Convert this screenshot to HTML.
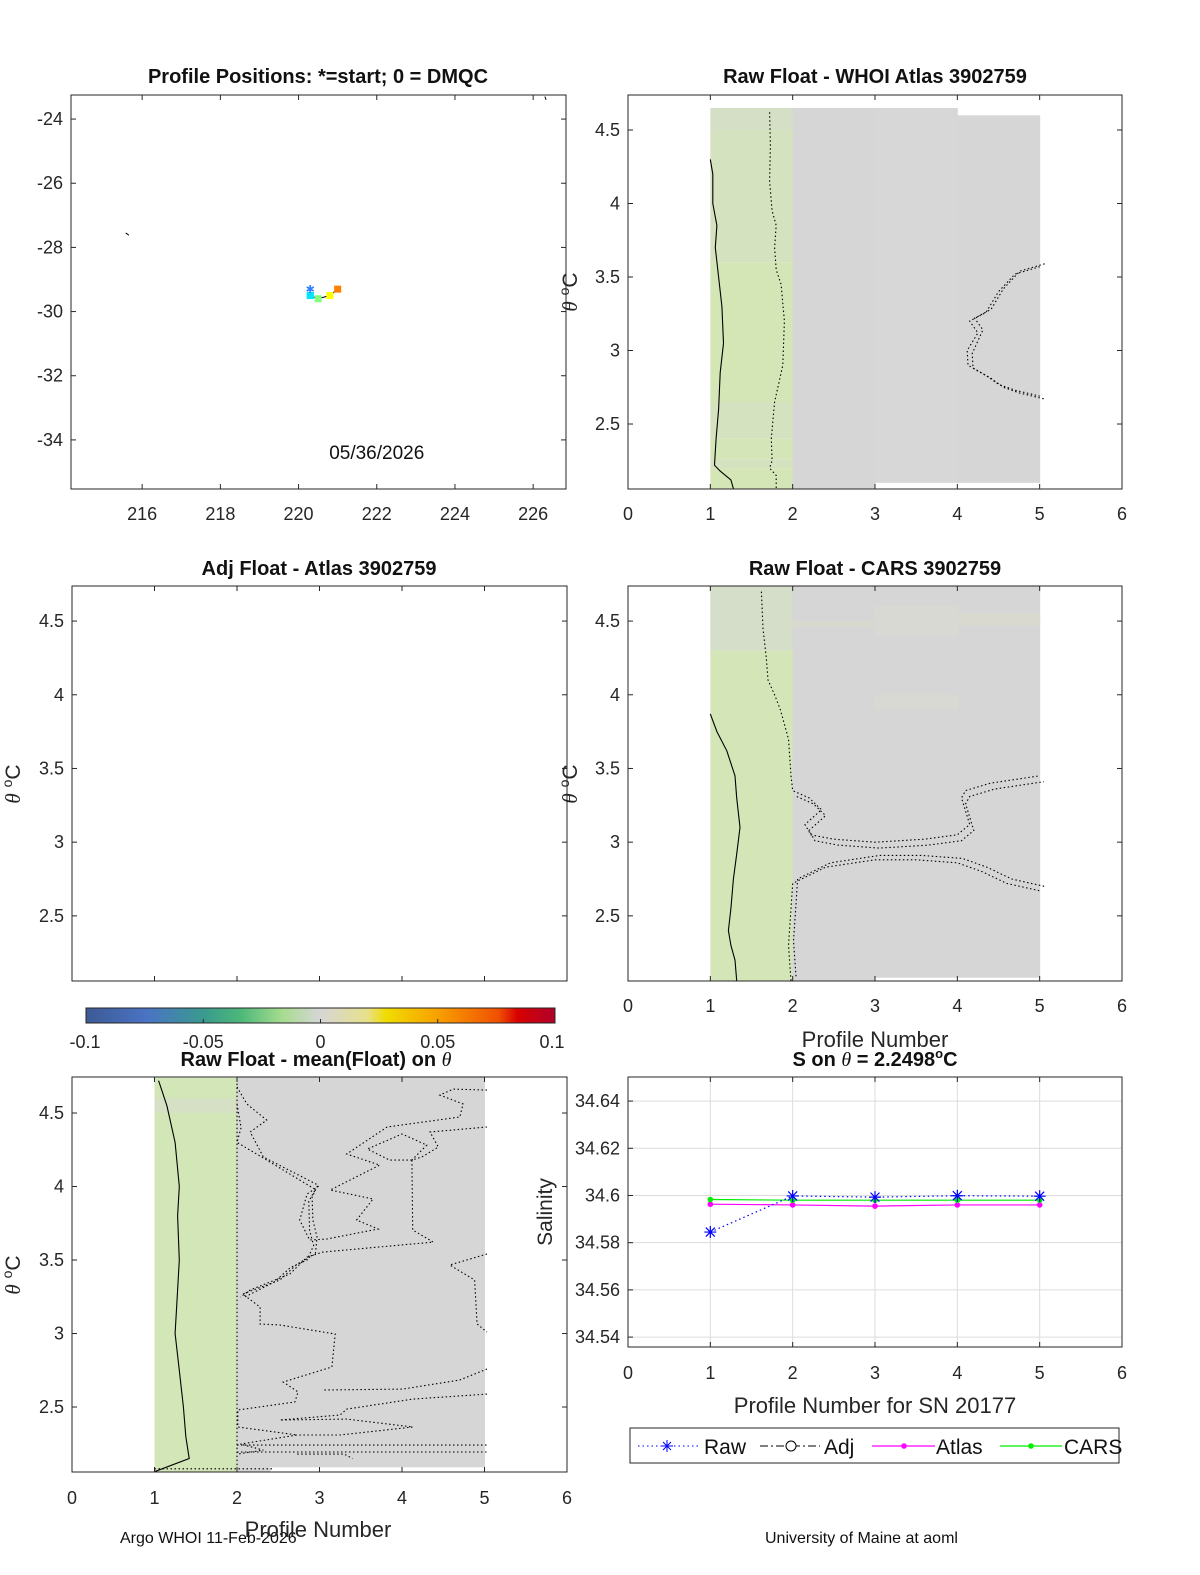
<!DOCTYPE html>
<html><head><meta charset="utf-8">
<style>
html,body{margin:0;padding:0;background:#fff;}
svg{display:block;font-family:"Liberation Sans","DejaVu Sans",sans-serif;}
.t{font-size:20px;font-weight:bold;fill:#111;text-anchor:middle;}
.tk{font-size:18px;fill:#262626;}
</style></head>
<body>
<svg id="fig" xmlns="http://www.w3.org/2000/svg" width="1200" height="1575" viewBox="0 0 1200 1575">
<defs>
<linearGradient id="cmap" x1="0" x2="1" y1="0" y2="0">
<stop offset="0" stop-color="#3d5a96"/><stop offset="0.13" stop-color="#4a73c4"/><stop offset="0.25" stop-color="#3a9a8f"/><stop offset="0.33" stop-color="#4cb878"/><stop offset="0.42" stop-color="#a8dc90"/><stop offset="0.5" stop-color="#d6d6d6"/><stop offset="0.6" stop-color="#e8e08a"/><stop offset="0.64" stop-color="#f0dc00"/><stop offset="0.75" stop-color="#f8a000"/><stop offset="0.88" stop-color="#f05000"/><stop offset="0.92" stop-color="#d80000"/><stop offset="1" stop-color="#b0002a"/>
</linearGradient>
</defs>
<g id="root"></g>
</svg>
<script>
// ---------- DATA ----------
const profiles=[1,2,3,4,5];
const salRaw=[34.5845,34.5998,34.5993,34.5999,34.5997];
const salAtlas=[34.5963,34.5960,34.5955,34.5960,34.5960];
const salCars=[34.5983,34.5980,34.5980,34.5980,34.5980];
const salTicks=[34.54,34.56,34.58,34.60,34.62,34.64];
const salTickLabels=["34.54","34.56","34.58","34.6","34.62","34.64"];
const thetaTicks=[2.5,3,3.5,4,4.5];
const thetaTickLabels=["2.5","3","3.5","4","4.5"];
const profTicks=[0,1,2,3,4,5,6];
const lonTicks=[216,218,220,222,224,226];
const latTicks=[-34,-32,-30,-28,-26,-24];
const posLon=[220.3,220.3,220.5,220.8,221.0];
const posLat=[-29.5,-29.5,-29.6,-29.5,-29.3];
const posColors=["#00e5ff","#00e5ff","#80ff80","#ffff00","#ff8000"];
const cbTicks=[-0.1,-0.05,0,0.05,0.1];
const cbTickLabels=["-0.1","-0.05","0","0.05","0.1"];
// heatmap cells: [p0,p1,thetaTop,thetaBottom,color]
const cellsWHOI=[[1,2,4.65,4.5,"#d5dfc6"],[1,2,4.5,3.6,"#d4e2c0"],[1,2,3.6,2.65,"#d4e6b5"],[1,2,2.65,2.4,"#d4e2c0"],[1,2,2.4,2.26,"#d4e6b8"],[1,2,2.26,2.2,"#d4e2c0"],[1,2,2.2,2.06,"#d4e6b5"],
 [2,3,4.65,2.058,"#d6d6d6"],[3,4,4.65,2.1,"#d7d7d7"],[4,5,4.6,2.1,"#d6d6d6"]];
const cellsCARS=[[1,2,4.74,4.3,"#d5dec8"],[1,2,4.3,2.06,"#d4e6b8"],[2,5,4.74,2.058,"#d6d6d6"],[2,3,4.5,4.46,"#d8d8cf"],[3,4,4.6,4.4,"#d9d9d3"],[4,5,4.55,4.47,"#d9d9d0"],[3,4,4.0,3.9,"#d9d9d3"],[3,5,2.08,2.058,"#ffffff"]];
const cellsMean=[[1,2,4.74,2.06,"#d3e6b7"],[1,2,4.6,4.5,"#d5e0c4"],[2,5,4.75,2.09,"#d6d6d6"],[2,2.4,2.09,2.06,"#d6d6d6"]];
// contours [profile, theta]
const cWhoiSolid=[[1.0,4.3],[1.03,4.2],[1.03,4.0],[1.08,3.85],[1.06,3.7],[1.1,3.5],[1.14,3.3],[1.16,3.05],[1.12,2.85],[1.1,2.6],[1.07,2.4],[1.05,2.22],[1.12,2.18],[1.25,2.12],[1.28,2.06]];
const cWhoiDot=[[1.72,4.62],[1.73,4.4],[1.72,4.15],[1.75,3.95],[1.8,3.85],[1.78,3.7],[1.8,3.55],[1.86,3.45],[1.9,3.2],[1.88,2.9],[1.78,2.65],[1.74,2.4],[1.75,2.25],[1.72,2.2],[1.8,2.15],[1.8,2.06]];
const cWhoiLoop=[[5.0,3.57],[4.7,3.52],[4.5,3.4],[4.35,3.26],[4.15,3.2],[4.25,3.12],[4.12,3.0],[4.13,2.9],[4.35,2.83],[4.5,2.77],[4.7,2.73],[5.0,2.69]];
const cCarsSolid=[[1.0,3.87],[1.08,3.75],[1.2,3.62],[1.3,3.45],[1.32,3.3],[1.36,3.1],[1.32,2.92],[1.28,2.75],[1.25,2.55],[1.22,2.4],[1.25,2.3],[1.3,2.2],[1.32,2.06]];
const cCarsDot1=[[1.62,4.7],[1.64,4.45],[1.68,4.25],[1.7,4.1],[1.78,4.0],[1.85,3.9],[1.95,3.7],[1.98,3.45],[2.0,3.35],[2.2,3.3],[2.35,3.22],[2.15,3.12],[2.22,3.05],[2.5,3.02],[3.0,3.0],[3.6,3.02],[4.0,3.05],[4.15,3.12],[4.05,3.3],[4.1,3.35],[4.4,3.4],[5.0,3.45]];
const cCarsDot2=[[1.98,2.06],[1.95,2.3],[1.98,2.55],[2.0,2.72],[2.4,2.83],[3.0,2.88],[3.5,2.88],[4.0,2.86],[4.3,2.8],[4.6,2.72],[5.0,2.67]];
const cMeanSolid=[[1.05,4.72],[1.15,4.55],[1.25,4.3],[1.3,4.0],[1.28,3.8],[1.3,3.5],[1.27,3.2],[1.25,3.0],[1.3,2.75],[1.35,2.5],[1.38,2.3],[1.42,2.15],[1.0,2.06]];
const cMean1=[[2.0,4.677],[2.12,4.561],[2.36,4.452],[2.16,4.371],[2.32,4.201],[2.98,4.01],[2.91,3.929],[2.92,3.772],[2.97,3.656],[2.95,3.541],[2.73,3.473],[2.52,3.364],[2.07,3.269],[2.28,3.18],[2.28,3.065],[2.52,3.058],[3.19,2.997],[3.15,2.772],[2.56,2.67],[2.74,2.602],[2.7,2.534],[2.01,2.48],[2.01,2.364],[2.73,2.31],[2.04,2.248],[2.32,2.207],[2.0,2.18]];
const cMean1b=[[2.0,4.56],[2.05,4.4],[2.0,4.3],[2.3,4.2],[2.95,3.98],[2.87,3.9],[2.88,3.7],[2.93,3.6],[2.85,3.5],[2.65,3.45],[2.45,3.35],[2.1,3.25]];
const cMean2=[[5.03,4.656],[4.62,4.663],[4.46,4.622],[4.74,4.561],[4.7,4.473],[3.82,4.405],[3.33,4.221],[3.73,4.146],[3.13,3.976],[3.65,3.915],[3.45,3.772],[3.71,3.711],[3.09,3.643],[2.88,3.636],[2.76,3.772],[2.85,3.949],[3.01,4.01]];
const cMean3=[[5.03,4.405],[4.34,4.371],[4.44,4.269],[4.24,4.201],[4.12,4.18],[4.13,3.704],[4.38,3.622],[3.04,3.554],[2.85,3.52],[2.64,3.405],[2.16,3.296],[2.04,3.248]];
const cMeanLoop=[[4.12,4.18],[3.85,4.18],[3.58,4.255],[4.0,4.357],[4.3,4.282],[4.12,4.18]];
const cMean4=[[5.03,3.541],[4.58,3.466],[4.88,3.364],[4.91,3.065],[5.03,3.01]];
const cMean5=[[5.03,2.759],[4.7,2.684],[4.01,2.622],[3.04,2.616]];
const cMean6=[[5.03,2.588],[4.13,2.554],[3.33,2.486],[3.25,2.446],[2.52,2.412],[3.33,2.418],[4.13,2.364],[3.25,2.31],[2.73,2.31]];
const cMean7=[[2.0,2.241],[5.03,2.241]];
const cMean8=[[2.0,2.194],[5.03,2.194]];
const cMean9=[[2.73,2.18],[3.3,2.18],[3.4,2.15]];
const cMean10=[[1.0,2.08],[2.45,2.08]];

// ---------- helpers ----------
const NS="http://www.w3.org/2000/svg";
const root=document.getElementById('root');
function el(tag,attrs,parent,txt){const e=document.createElementNS(NS,tag);for(const k in attrs)e.setAttribute(k,attrs[k]);if(txt!==undefined)e.textContent=txt;(parent||root).appendChild(e);return e;}
function axes(x0,x1,y0,y1,xmin,xmax,ymin,ymax){return{x0,x1,y0,y1,X:v=>x0+(v-xmin)/(xmax-xmin)*(x1-x0),Y:v=>y1-(v-ymin)/(ymax-ymin)*(y1-y0)};}
function frame(a,name,g){const r=el('rect',{x:a.x0,y:a.y0,width:a.x1-a.x0,height:a.y1-a.y0,fill:'none',stroke:'#262626','stroke-width':1},g);
}
function xticks(a,vals,labels,g,name,ly){const tg=el('g',{},g);
vals.forEach((v,i)=>{const x=a.X(v);el('line',{x1:x,x2:x,y1:a.y1,y2:a.y1-5,stroke:'#262626'},tg);el('line',{x1:x,x2:x,y1:a.y0,y2:a.y0+5,stroke:'#262626'},tg);
if(labels){const t=el('text',{x:x,y:ly||a.y1+32,class:'tk','text-anchor':'middle'},tg,labels[i]);}});}
function yticks(a,vals,labels,g,name){const tg=el('g',{},g);
vals.forEach((v,i)=>{const y=a.Y(v);el('line',{x1:a.x0,x2:a.x0+5,y1:y,y2:y,stroke:'#262626'},tg);el('line',{x1:a.x1,x2:a.x1-5,y1:y,y2:y,stroke:'#262626'},tg);
el('text',{x:a.x0-8,y:y+6,class:'tk','text-anchor':'end'},tg,labels[i]);});}
function cells(a,arr,g,name){const cg=el('g',{},g);
arr.forEach(c=>{const r=el('rect',{x:a.X(c[0]),y:a.Y(c[2]),width:a.X(c[1])-a.X(c[0])+0.5,height:a.Y(c[3])-a.Y(c[2]),fill:c[4]},cg);
});}
function contour(a,pts,dotted,g,name){const d=pts.map((p,i)=>(i?'L':'M')+a.X(p[0]).toFixed(1)+','+a.Y(p[1]).toFixed(1)).join(' ');
const p=el('path',{d:d,fill:'none',stroke:'#000','stroke-width':1.1,'stroke-dasharray':dotted?'1.5,2.5':'none'},g);
}
function title(x,y,txt,g,name){const t=el('text',{x:x,y:y,class:'t'},g);
return t;}
function thetaTitle(x,y,txt){ // text with italic theta
 const t=el('text',{x:x,y:y,class:'t'});
 return t;}
function ylab(x,y,g,name){const t=el('text',{x:x,y:y,transform:`rotate(-90 ${x} ${y})`,'text-anchor':'middle','font-size':'21px',fill:'#262626'},g);
 
 el('tspan',{'font-style':'italic','font-family':'"Liberation Serif",serif'},t,'θ');el('tspan',{},t,' ');el('tspan',{dy:-8,'font-size':'14px'},t,'o');el('tspan',{dy:8},t,'C');}

// ---------- Panel 1: map ----------
{const g=el('g',{});
const a=axes(71,566,95,489,214.18,226.84,-35.53,-23.25);
const t=title(318,83,'',g,'map-title');t.textContent='Profile Positions: *=start; 0 = DMQC';
xticks(a,lonTicks,lonTicks.map(String),g,'map-x-ticks',520);
yticks(a,latTicks,latTicks.map(String),g,'map-y-ticks');
el('line',{x1:a.X(215.58),y1:a.Y(-27.55),x2:a.X(215.66),y2:a.Y(-27.62),stroke:'#000'},g);
el('line',{x1:a.X(226.3),y1:a.Y(-23.3),x2:a.X(226.33),y2:a.Y(-23.4),stroke:'#000'},g);
const trk=posLon.map((v,i)=>(i?'L':'M')+a.X(v)+','+a.Y(posLat[i])).join(' ');
el('path',{d:trk,stroke:'#000',fill:'none','stroke-width':1},g);
posLon.forEach((v,i)=>{const r=el('rect',{x:a.X(v)-3.5,y:a.Y(posLat[i])-3.5,width:7,height:7,fill:posColors[i]},g);
});
const s=el('text',{x:a.X(220.3),y:a.Y(-29.3)+4,'font-size':'11px','text-anchor':'middle',fill:'#3080ff','font-weight':'bold'},g,'✱');

const dt=el('text',{x:a.X(222),y:a.Y(-34.6),'font-size':'19px','text-anchor':'middle',fill:'#111'},g,'05/36/2026');

frame(a,'map',g);}

// ---------- Panel 2: Raw - WHOI ----------
{const g=el('g',{});
const a=axes(628,1122,95,489,0,6,2.058,4.738);
cells(a,cellsWHOI,g,'whoi-heatmap');
contour(a,cWhoiSolid,false,g,'zero-contour');contour(a,cWhoiDot,true,g,'dotted-contour');
contour(a,cWhoiLoop,true,g,'dotted-contour-right');contour(a,cWhoiLoop.map(p=>[p[0]+0.06,p[1]+(p[1]>3.1?0.02:-0.02)]),true,g,'dotted-contour-right-2');
const t=title(875,83,'',g,'whoi-title');t.textContent='Raw Float - WHOI Atlas  3902759';
xticks(a,profTicks,profTicks.map(String),g,'whoi-x-ticks',520);yticks(a,thetaTicks,thetaTickLabels,g,'whoi-y-ticks');
ylab(577,292,g,'whoi-y-label');frame(a,'whoi',g);}

// ---------- Panel 3: Adj - Atlas ----------
{const g=el('g',{});
const a=axes(72,567,586,981,0,6,2.058,4.738);
const t=title(319,575,'',g,'adj-title');t.textContent='Adj Float - Atlas  3902759';
xticks(a,profTicks,null,g,'adj-x-ticks');yticks(a,thetaTicks,thetaTickLabels,g,'adj-y-ticks');
ylab(20,784,g,'adj-y-label');frame(a,'adj',g);
const cb=el('rect',{x:86,y:1008,width:469,height:15,fill:'url(#cmap)',stroke:'#262626','stroke-width':1});

const cg=el('g',{});
cbTicks.forEach((v,i)=>{const x=86+(v+0.1)/0.2*469;if(i>0&&i<4)el('line',{x1:x,x2:x,y1:1023,y2:1019,stroke:'#262626'},cg);
el('text',{x:i==0?85:(i==4?552:x),y:1048,class:'tk','text-anchor':'middle','font-size':'17px'},cg,cbTickLabels[i]);});}

// ---------- Panel 4: Raw - CARS ----------
{const g=el('g',{});
const a=axes(628,1122,586,981,0,6,2.058,4.738);
cells(a,cellsCARS,g,'cars-heatmap');
contour(a,cCarsSolid,false,g,'zero-contour');contour(a,cCarsDot1,true,g,'dotted-contour-upper');
contour(a,cCarsDot1.slice(8).map(p=>[p[0]+0.05,p[1]-0.04]),true,g,'dotted-contour-upper-2');
contour(a,cCarsDot2,true,g,'dotted-contour-lower');contour(a,cCarsDot2.map(p=>[p[0]+0.06,p[1]+0.03]),true,g,'dotted-contour-lower-2');
const t=title(875,575,'',g,'cars-title');t.textContent='Raw Float - CARS  3902759';
xticks(a,profTicks,profTicks.map(String),g,'cars-x-ticks',1012);yticks(a,thetaTicks,thetaTickLabels,g,'cars-y-ticks');
ylab(577,784,g,'cars-y-label');frame(a,'cars',g);
const xl=el('text',{x:875,y:1047,'font-size':'22px','text-anchor':'middle',fill:'#262626'},g,'Profile Number');
}

// ---------- Panel 5: Raw - mean ----------
{const g=el('g',{});
const a=axes(72,567,1077,1472,0,6,2.058,4.745);
cells(a,cellsMean,g,'mean-heatmap');
contour(a,cMeanSolid,false,g,'zero-contour');
[cMean1,cMean1b,cMean2,cMean3,cMeanLoop,cMean4,cMean5,cMean6,cMean7,cMean8,cMean9,cMean10].forEach(c=>contour(a,c,true,g,'dotted-contour'));
contour(a,[[2.0,4.7],[2.0,2.06]],true,g,'dotted-contour-edge');
const t=el('text',{x:316,y:1066,class:'t'},g);
el('tspan',{},t,'Raw Float - mean(Float) on ');el('tspan',{'font-style':'italic','font-family':'"Liberation Serif",serif','font-weight':'normal'},t,'θ');
xticks(a,profTicks,profTicks.map(String),g,'mean-x-ticks',1504);yticks(a,thetaTicks,thetaTickLabels,g,'mean-y-ticks');
ylab(20,1275,g,'mean-y-label');frame(a,'mean',g);}

// ---------- Panel 6: Salinity ----------
{const g=el('g',{});
const a=axes(628,1122,1077,1347,0,6,34.5358,34.6502);
const gg=el('g',{},g);
profTicks.forEach(v=>el('line',{x1:a.X(v),x2:a.X(v),y1:a.y0,y2:a.y1,stroke:'#dcdcdc'},gg));
salTicks.forEach(v=>el('line',{x1:a.x0,x2:a.x1,y1:a.Y(v),y2:a.Y(v),stroke:'#dcdcdc'},gg));
const t=el('text',{x:875,y:1066,class:'t'},g);
el('tspan',{},t,'S on ');el('tspan',{'font-style':'italic','font-family':'"Liberation Serif",serif','font-weight':'normal'},t,'θ');el('tspan',{},t,' = 2.2498');el('tspan',{dy:-8,'font-size':'13px'},t,'o');el('tspan',{dy:8},t,'C');
function series(vals,color,dash,name,marker){const d=vals.map((v,i)=>(i?'L':'M')+a.X(profiles[i])+','+a.Y(v)).join(' ');
const p=el('path',{d:d,fill:'none',stroke:color,'stroke-width':1.2,'stroke-dasharray':dash},g);
vals.forEach((v,i)=>{const x=a.X(profiles[i]),y=a.Y(v);
 if(marker==='star'){const s=el('path',{d:`M${x-6},${y}H${x+6}M${x},${y-6}V${y+6}M${x-4.5},${y-4.5}L${x+4.5},${y+4.5}M${x-4.5},${y+4.5}L${x+4.5},${y-4.5}`,stroke:color,'stroke-width':1.2},g);
  }
 else{const c=el('circle',{cx:x,cy:y,r:2.8,fill:color},g);}});}
series(salAtlas,'#ff00ff','none','atlas','dot');
series(salCars,'#00ee00','none','cars','dot');
series(salRaw,'#0000ff','1.5,3','raw','star');
xticks(a,profTicks,profTicks.map(String),g,'sal-x-ticks',1379);
const yg=el('g',{},g);
salTicks.forEach((v,i)=>{const y=a.Y(v);el('line',{x1:a.x0,x2:a.x0+5,y1:y,y2:y,stroke:'#262626'},yg);el('text',{x:a.x0-8,y:y+6,class:'tk','text-anchor':'end'},yg,salTickLabels[i]);});
frame(a,'salinity',g);
const yl=el('text',{x:552,y:1212,transform:'rotate(-90 552 1212)','font-size':'21px','text-anchor':'middle',fill:'#262626'},g,'Salinity');

const xl=el('text',{x:875,y:1413,'font-size':'22px','text-anchor':'middle',fill:'#262626'},g,'Profile Number for SN 20177');

// legend
const lg=el('g',{},g);
el('rect',{x:630,y:1428,width:489,height:35,fill:'#fff',stroke:'#262626'},lg);
const ly=1446;
el('line',{x1:638,x2:700,y1:ly,y2:ly,stroke:'#0000ff','stroke-dasharray':'1.5,3'},lg);
el('path',{d:`M661,${ly}h12M667,${ly-6}v12M663,${ly-4}l8,8M663,${ly+4}l8,-8`,stroke:'#0000ff'},lg);
el('text',{x:704,y:ly+8,'font-size':'21px',fill:'#111'},lg,'Raw');
el('line',{x1:760,x2:820,y1:ly,y2:ly,stroke:'#000','stroke-dasharray':'8,3,2,3'},lg);
el('circle',{cx:791,cy:ly,r:5,fill:'#fff',stroke:'#000'},lg);
el('text',{x:824,y:ly+8,'font-size':'21px',fill:'#111'},lg,'Adj');
el('line',{x1:872,x2:935,y1:ly,y2:ly,stroke:'#ff00ff','stroke-width':1.2},lg);
el('circle',{cx:904,cy:ly,r:2.8,fill:'#ff00ff'},lg);
el('text',{x:936,y:ly+8,'font-size':'21px',fill:'#111'},lg,'Atlas');
el('line',{x1:1000,x2:1062,y1:ly,y2:ly,stroke:'#00ee00','stroke-width':1.2},lg);
el('circle',{cx:1031,cy:ly,r:2.8,fill:'#00ee00'},lg);
el('text',{x:1064,y:ly+8,'font-size':'21px',fill:'#111'},lg,'CARS');}

// ---------- footer ----------
{const f1=el('text',{x:120,y:1543,'font-size':'16px',fill:'#111'},null,'Argo WHOI 11-Feb-2026');

const f2=el('text',{x:318,y:1537,'font-size':'22px','text-anchor':'middle',fill:'#262626'},null,'Profile Number');

const f3=el('text',{x:765,y:1543,'font-size':'16px',fill:'#111'},null,'University of Maine at aoml');
}
</script>
</body></html>
